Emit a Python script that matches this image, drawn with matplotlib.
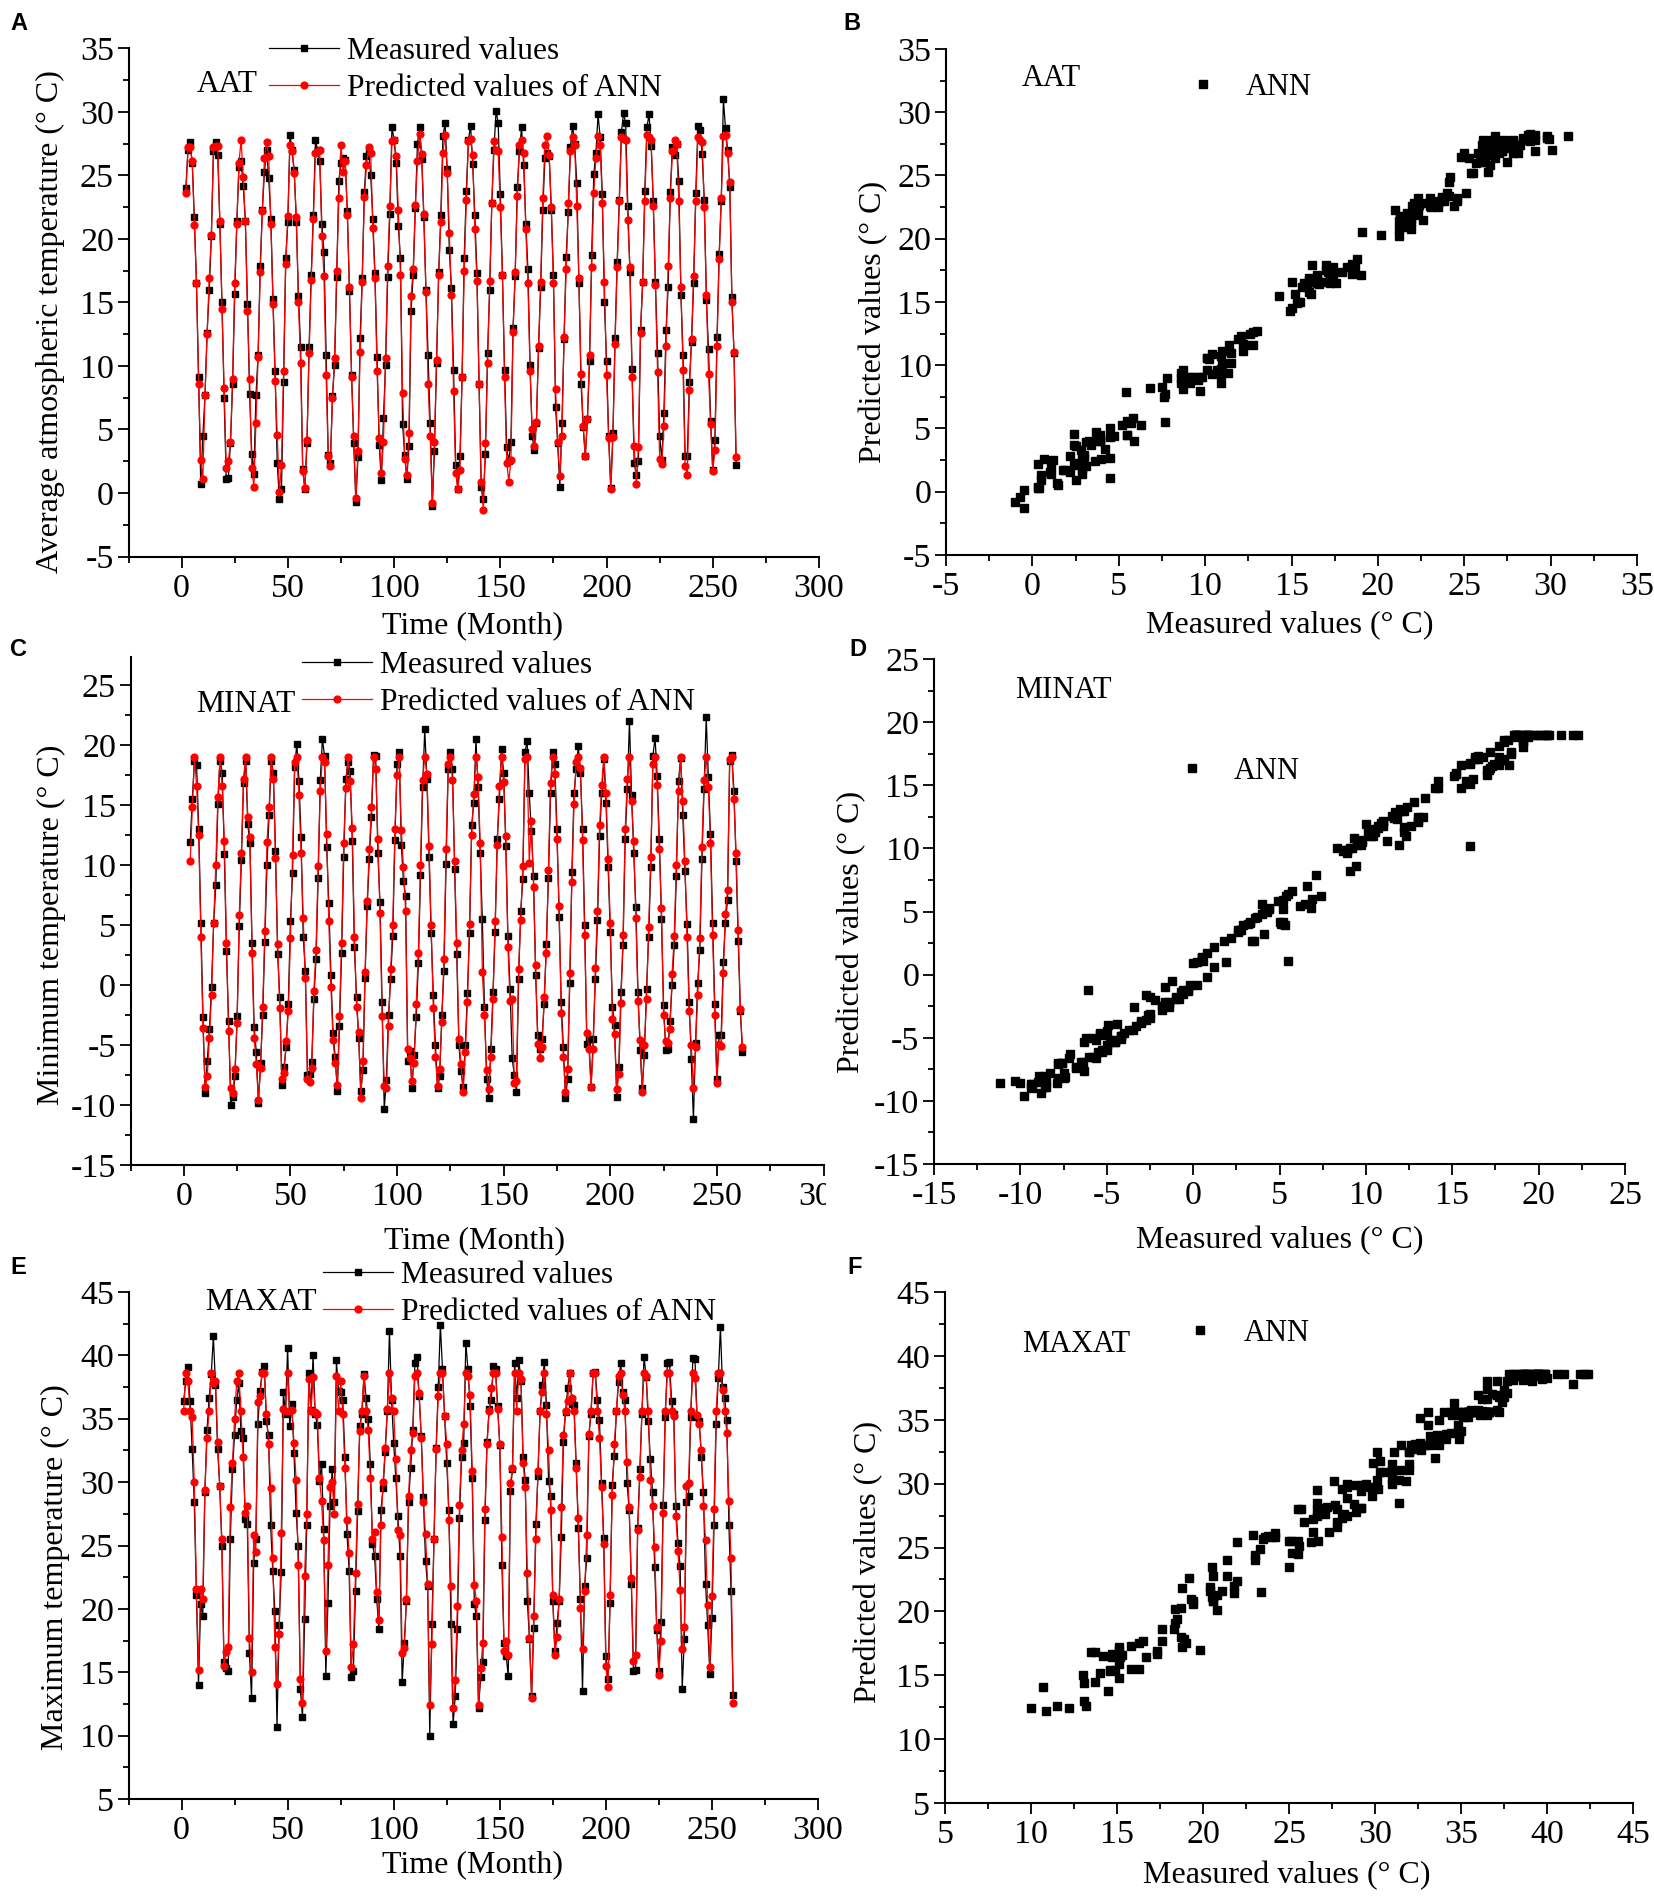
import numpy as np
import matplotlib
matplotlib.use("Agg")
import matplotlib.pyplot as plt
from matplotlib.ticker import MultipleLocator
from matplotlib.transforms import Bbox, TransformedBbox
from matplotlib.font_manager import FontProperties

plt.rcParams['font.family'] = ['Liberation Serif', 'DejaVu Serif']
plt.rcParams['axes.unicode_minus'] = False

# ---------------- data ----------------
aat_months = np.arange(2, 262)
aat_measured = [
    24.0, 27.0, 27.6, 26.0, 21.7, 16.5, 9.1, 0.7, 4.5, 7.7, 12.6, 16.0,
    20.2, 26.9, 27.6, 26.6, 21.2, 15.0, 7.5, 1.1, 1.2, 3.9, 8.6, 15.7,
    21.4, 25.7, 26.1, 24.2, 21.4, 14.9, 7.8, 3.1, 1.5, 7.7, 10.9, 17.9,
    22.3, 25.3, 27.0, 24.8, 21.6, 15.3, 9.6, 2.4, -0.5, 0.3, 8.7, 18.5,
    21.3, 28.2, 27.0, 25.4, 21.3, 15.5, 11.5, 1.9, 0.3, 3.9, 11.5, 17.2,
    21.9, 27.8, 27.0, 26.1, 21.2, 19.0, 10.9, 3.0, 2.4, 7.6, 10.1, 17.0,
    24.6, 26.0, 26.4, 26.2, 22.2, 15.9, 9.3, 3.9, -0.7, 2.8, 12.2, 16.9,
    23.7, 26.5, 26.9, 25.0, 21.6, 17.3, 10.7, 3.8, 1.0, 5.9, 10.1, 17.0,
    22.0, 28.8, 27.8, 26.0, 21.0, 18.5, 5.4, 3.0, 1.1, 3.7, 14.3, 17.2,
    22.4, 27.5, 28.8, 26.3, 21.7, 16.0, 10.9, 5.5, -1.0, 3.3, 10.2, 17.4,
    21.9, 28.1, 29.1, 25.5, 19.1, 16.1, 9.7, 2.2, 0.3, 2.9, 9.1, 18.5,
    23.8, 27.8, 28.9, 25.9, 21.9, 17.3, 8.6, 0.5, -0.5, 3.1, 11.0, 16.0,
    22.8, 27.0, 30.1, 29.1, 23.5, 17.2, 9.7, 3.6, 2.5, 4.0, 13.0, 17.1,
    24.1, 26.9, 28.8, 25.8, 21.2, 17.6, 10.1, 4.5, 3.4, 5.5, 11.4, 16.2,
    22.3, 26.4, 26.8, 26.5, 22.3, 17.2, 6.8, 3.9, 0.5, 5.5, 12.1, 18.6,
    22.1, 27.2, 28.9, 27.5, 24.4, 16.5, 8.6, 5.2, 2.9, 5.8, 10.4, 18.7,
    25.1, 26.8, 29.8, 28.0, 23.5, 15.0, 10.4, 4.5, 0.4, 4.7, 12.2, 18.2,
    23.1, 28.4, 29.9, 29.1, 22.6, 17.4, 9.8, 2.4, 1.4, 2.5, 12.8, 16.6,
    23.8, 28.8, 29.8, 27.3, 23.0, 16.6, 11.0, 4.5, 2.6, 6.3, 12.8, 16.2,
    23.7, 27.2, 26.6, 27.5, 24.6, 15.6, 10.9, 2.9, 2.9, 8.7, 11.9, 16.5,
    23.6, 28.9, 28.6, 26.7, 23.1, 15.2, 11.3, 5.7, 1.8, 4.2, 12.3, 18.8,
    23.0, 31.0, 28.7, 27.0, 24.1, 15.4, 11.0, 2.2,
]
aat_predicted = [
    23.6, 27.2, 27.2, 26.1, 21.1, 16.5, 8.6, 2.6, 1.1, 7.7, 12.5, 16.9,
    20.3, 27.2, 27.3, 27.3, 21.4, 14.5, 8.3, 2.0, 2.5, 4.0, 9.0, 16.5,
    21.2, 26.0, 27.8, 24.9, 21.4, 14.3, 9.0, 2.0, 0.5, 5.5, 10.7, 17.4,
    22.2, 26.4, 27.6, 26.5, 21.2, 14.9, 8.8, 4.6, 0.1, 2.2, 9.6, 18.0,
    21.8, 27.4, 26.9, 25.2, 21.7, 15.0, 10.2, 1.7, 0.4, 4.2, 11.0, 16.8,
    21.6, 26.8, 26.9, 27.0, 20.2, 17.1, 9.3, 2.9, 2.1, 7.5, 10.6, 17.5,
    23.2, 27.4, 25.3, 26.1, 21.9, 16.2, 9.1, 4.5, -0.4, 3.3, 11.1, 16.6,
    23.3, 25.8, 27.2, 26.8, 20.9, 16.9, 9.6, 4.3, 1.6, 4.0, 10.6, 17.9,
    22.6, 27.7, 27.8, 26.5, 22.3, 17.2, 7.9, 2.7, 1.4, 4.7, 15.5, 17.6,
    22.7, 26.1, 28.3, 26.7, 22.0, 15.8, 8.6, 4.5, -0.8, 4.0, 10.5, 17.2,
    21.3, 26.8, 28.2, 25.2, 20.5, 15.6, 8.0, 1.6, 0.3, 1.8, 9.1, 17.5,
    23.1, 27.7, 27.9, 26.6, 20.8, 16.7, 8.6, 0.9, -1.3, 3.9, 10.2, 16.7,
    22.8, 27.7, 27.0, 26.9, 22.5, 17.2, 9.1, 2.4, 0.9, 2.6, 12.7, 17.4,
    23.4, 27.4, 27.8, 26.8, 20.8, 16.5, 9.6, 5.0, 3.7, 5.6, 11.6, 16.6,
    23.2, 27.4, 28.1, 26.6, 22.5, 16.5, 8.2, 4.0, 1.3, 4.5, 12.3, 17.6,
    22.8, 26.9, 28.0, 27.4, 22.6, 16.9, 9.4, 5.3, 2.9, 5.8, 10.9, 17.8,
    23.6, 26.4, 28.1, 27.4, 22.8, 16.6, 9.3, 4.3, 0.3, 4.4, 11.7, 17.8,
    23.0, 28.0, 27.9, 27.8, 21.5, 17.8, 9.1, 3.7, 0.7, 3.6, 12.6, 16.6,
    23.0, 28.2, 28.0, 27.8, 22.6, 16.4, 9.5, 2.7, 2.3, 5.3, 11.6, 17.9,
    23.2, 26.9, 27.8, 27.5, 23.0, 16.2, 9.7, 2.1, 1.4, 8.1, 12.1, 17.1,
    23.0, 28.0, 27.8, 27.6, 22.5, 15.6, 9.4, 5.4, 1.7, 3.4, 11.6, 18.4,
    23.2, 28.1, 28.2, 26.8, 24.5, 15.0, 11.1, 2.8,
]

minat_months = np.arange(3, 263)
minat_measured = [
    11.9, 15.5, 18.7, 18.3, 13.0, 5.2, -2.7, -9.0, -6.3, -3.7, -0.2, 5.2,
    8.3, 15.1, 18.7, 17.7, 10.9, 2.8, -3.0, -10.0, -9.3, -7.6, -2.6, 4.9,
    10.4, 16.8, 18.7, 13.4, 11.8, 3.5, -3.5, -5.6, -9.8, -6.5, -2.5, 3.6,
    10.0, 14.2, 18.7, 17.7, 11.2, 2.6, -1.0, -8.3, -6.8, -5.2, -1.6, 5.3,
    9.3, 18.2, 20.1, 17.0, 12.3, 4.0, 1.2, -7.5, -7.4, -6.4, -1.2, 2.2,
    8.9, 17.1, 20.5, 19.1, 11.5, 6.8, 0.8, -4.0, -6.0, -8.8, -3.4, 2.7,
    10.7, 17.2, 18.6, 17.8, 12.0, 3.2, -1.0, -4.4, -8.8, -7.1, 0.6, 6.6,
    10.5, 14.0, 19.2, 19.1, 11.0, 6.9, -1.4, -10.3, -7.9, -2.5, 0.5, 4.1,
    12.1, 18.4, 19.4, 11.7, 8.7, 7.4, -6.3, -5.5, -8.6, -5.8, -2.7, 1.8,
    9.2, 16.5, 21.3, 17.2, 10.7, 4.3, -0.8, -5.0, -8.6, -7.6, -2.5, 1.2,
    10.1, 18.0, 19.4, 18.0, 9.7, 2.6, -5.0, -7.2, -8.5, -5.0, -0.7, 4.3,
    13.3, 15.2, 20.5, 16.5, 11.0, 5.5, -1.8, -7.8, -9.4, -5.3, -0.6, 4.4,
    12.2, 15.5, 19.7, 17.7, 11.6, 4.1, -0.3, -6.1, -7.5, -8.9, 0.5, 6.2,
    8.8, 19.4, 20.3, 16.0, 12.8, 9.1, 0.8, -4.2, -5.3, -4.5, -1.6, 3.4,
    8.9, 16.0, 19.4, 18.4, 13.0, 5.7, -1.4, -5.2, -9.4, -7.8, 0.2, 9.4,
    16.0, 18.0, 19.9, 17.7, 13.0, 5.0, -4.9, -4.5, -8.5, -4.5, 0.5, 5.4,
    12.4, 16.0, 18.8, 15.2, 9.8, 4.4, -1.8, -3.3, -9.3, -6.8, -0.6, 3.3,
    12.2, 16.3, 22.0, 15.8, 11.0, 6.5, -0.6, -5.4, -8.6, -5.8, -0.3, 4.0,
    9.8, 19.1, 20.6, 17.4, 12.2, 5.5, -1.7, -5.4, -5.3, -3.0, 0.0, 3.3,
    9.1, 17.0, 18.9, 14.2, 9.5, 5.1, -1.4, -6.2, -11.2, -4.8, 0.2, 2.9,
    10.5, 16.3, 22.3, 17.3, 12.6, 5.2, -1.6, -7.8, -4.2, -4.2, 1.9, 5.2,
    7.1, 18.7, 19.2, 16.2, 10.3, 3.7, -2.2, -5.6,
]
minat_predicted = [
    10.3, 14.8, 19.0, 16.6, 12.5, 4.0, -3.6, -8.5, -7.6, -4.4, -0.8, 5.2,
    10.0, 15.7, 19.0, 16.6, 12.0, 3.5, -3.8, -8.6, -9.0, -7.0, -3.2, 5.8,
    11.0, 17.2, 19.0, 14.0, 12.3, 2.7, -4.4, -6.6, -9.6, -6.9, -1.8, 4.5,
    11.9, 14.8, 19.0, 17.2, 10.6, 3.4, -1.9, -7.8, -7.3, -4.7, -2.2, 3.9,
    10.8, 18.6, 19.0, 15.8, 11.0, 5.6, 0.6, -7.8, -8.1, -6.9, -0.5, 2.9,
    9.9, 16.2, 19.0, 18.6, 12.6, 5.3, -0.2, -4.6, -6.5, -8.3, -2.6, 3.5,
    11.8, 16.4, 19.0, 17.0, 13.1, 4.0, -1.8, -3.9, -9.4, -6.3, 1.1, 7.0,
    11.3, 14.8, 19.0, 18.0, 12.2, 6.0, -2.6, -8.4, -8.6, -3.4, 1.3, 5.0,
    13.0, 17.5, 19.0, 12.9, 9.8, 6.2, -5.3, -6.1, -8.0, -6.5, -1.6, 2.7,
    10.0, 17.1, 19.0, 17.6, 11.6, 5.0, -1.9, -6.0, -8.4, -7.0, -3.1, 2.2,
    11.3, 18.4, 19.0, 17.1, 10.3, 3.5, -4.5, -6.6, -8.9, -5.6, -1.4, 5.1,
    12.5, 15.9, 19.0, 17.3, 11.8, 1.1, -2.5, -7.1, -8.7, -6.0, -1.2, 5.3,
    11.7, 16.6, 19.0, 16.9, 12.4, 3.2, -1.3, -1.2, -8.2, -8.0, 1.3, 5.4,
    9.9, 18.8, 19.0, 10.2, 13.7, 8.2, 1.7, -4.9, -6.1, -5.2, -1.0, 2.7,
    9.6, 16.8, 19.0, 17.6, 12.2, 6.6, -2.3, -6.0, -8.9, -7.0, 1.0, 8.6,
    15.1, 18.6, 19.0, 18.1, 12.1, 4.2, -4.0, -5.3, -8.5, -5.3, 1.4, 6.2,
    13.3, 16.7, 19.0, 16.0, 10.5, 5.2, -2.8, -4.1, -8.7, -7.4, -1.5, 4.2,
    13.0, 17.2, 19.0, 15.3, 12.0, 5.6, -1.3, -4.6, -8.9, -5.0, -1.2, 4.8,
    10.7, 18.4, 19.0, 16.7, 11.3, 6.4, -2.5, -4.7, -4.8, -3.7, 0.9, 4.1,
    10.0, 16.2, 19.0, 15.3, 10.3, 4.0, -2.2, -5.0, -8.6, -5.2, -0.8, 3.9,
    11.5, 17.1, 19.0, 16.5, 11.8, 4.2, -2.5, -8.2, -4.9, -5.1, 1.0, 5.9,
    7.9, 18.8, 19.0, 15.5, 11.0, 4.6, -2.0, -5.2,
]

maxat_months = np.arange(1, 261)
maxat_measured = [
    36.4, 38.0, 39.1, 36.4, 32.6, 28.4, 21.1, 14.0, 20.4, 19.4, 29.2, 34.1,
    36.6, 38.5, 41.5, 37.7, 32.6, 29.7, 25.0, 15.8, 15.3, 15.1, 25.5, 31.0,
    33.7, 36.5, 37.8, 34.0, 33.5, 27.1, 26.7, 16.5, 13.0, 23.6, 25.5, 34.6,
    37.2, 38.7, 39.2, 34.8, 33.7, 26.6, 23.0, 19.8, 10.7, 18.7, 22.9, 37.1,
    35.4, 40.6, 34.4, 36.2, 32.3, 27.6, 25.0, 13.7, 11.5, 19.2, 26.6, 38.6,
    35.7, 40.0, 35.4, 34.5, 30.1, 31.4, 26.3, 14.7, 20.5, 28.1, 31.0, 28.4,
    39.6, 37.2, 37.1, 36.5, 32.0, 25.9, 23.0, 14.6, 15.1, 21.4, 27.7, 34.4,
    35.4, 38.5, 36.6, 35.0, 31.4, 25.1, 24.2, 20.8, 18.4, 27.8, 29.5, 32.4,
    35.6, 41.9, 36.5, 33.1, 30.3, 27.3, 24.2, 14.2, 17.3, 20.6, 28.4, 31.1,
    34.1, 39.4, 39.9, 36.8, 33.6, 28.8, 23.8, 21.8, 10.0, 18.8, 25.5, 32.7,
    37.5, 42.4, 38.9, 35.2, 31.5, 27.8, 18.8, 10.9, 13.1, 18.4, 27.2, 32.0,
    33.1, 41.0, 38.9, 36.0, 30.3, 20.4, 19.4, 12.2, 14.6, 15.8, 27.0, 33.2,
    35.8, 36.5, 39.2, 38.9, 36.0, 32.9, 23.5, 17.3, 16.3, 14.7, 29.3, 31.0,
    39.4, 36.6, 39.6, 38.0, 32.0, 30.2, 20.6, 17.6, 13.1, 18.5, 26.7, 30.5,
    35.6, 37.7, 39.5, 36.1, 30.1, 28.9, 20.6, 16.7, 18.9, 20.6, 25.7, 33.2,
    35.5, 37.4, 38.6, 36.2, 36.1, 31.5, 26.4, 20.8, 13.5, 21.8, 24.0, 33.6,
    35.4, 38.6, 38.7, 36.5, 34.9, 29.9, 25.6, 16.3, 14.5, 20.5, 29.8, 32.1,
    35.6, 37.9, 39.4, 37.1, 36.5, 29.9, 27.8, 22.0, 15.1, 15.2, 26.4, 31.0,
    35.4, 39.9, 38.3, 34.8, 31.8, 29.2, 23.3, 18.3, 15.1, 19.0, 28.2, 35.1,
    39.4, 39.5, 36.4, 35.4, 28.1, 25.2, 23.4, 13.7, 17.6, 28.4, 28.9, 35.1,
    39.8, 39.7, 35.1, 34.8, 32.0, 29.2, 22.0, 18.7, 14.9, 19.3, 26.6, 34.6,
    38.2, 42.2, 37.5, 36.6, 34.9, 26.6, 21.4, 13.2,
]
maxat_predicted = [
    35.6, 38.6, 38.0, 35.6, 35.1, 30.0, 21.6, 15.2, 21.6, 20.8, 29.4, 33.5,
    35.6, 38.6, 37.8, 38.0, 33.2, 29.7, 25.5, 15.5, 16.6, 17.0, 28.0, 31.5,
    35.0, 38.0, 38.6, 35.6, 32.0, 27.6, 28.1, 17.7, 15.0, 25.8, 24.5, 36.3,
    36.8, 38.6, 38.6, 35.4, 33.0, 29.5, 24.0, 17.0, 14.1, 18.0, 26.0, 35.8,
    35.6, 38.6, 35.6, 35.7, 33.1, 30.2, 23.5, 14.5, 12.6, 22.6, 27.5, 38.1,
    35.6, 38.3, 35.5, 35.4, 30.3, 28.5, 25.4, 16.7, 23.5, 29.6, 30.0, 27.5,
    38.4, 35.6, 38.0, 35.4, 31.1, 27.0, 24.4, 15.4, 17.2, 22.8, 28.3, 34.0,
    35.6, 38.4, 35.6, 34.1, 30.3, 25.5, 26.1, 21.3, 19.1, 26.6, 30.0, 32.7,
    35.8, 38.6, 36.6, 35.6, 31.8, 26.2, 25.8, 16.5, 16.9, 20.8, 28.9, 32.5,
    33.9, 38.4, 38.6, 37.0, 33.5, 28.4, 25.9, 22.0, 12.4, 17.2, 25.5, 32.6,
    36.8, 38.6, 38.6, 35.2, 33.0, 27.0, 21.8, 12.2, 14.4, 20.2, 28.2, 32.5,
    34.6, 38.6, 38.4, 36.9, 30.9, 21.9, 20.6, 12.4, 15.3, 17.3, 27.9, 33.0,
    35.6, 37.4, 38.6, 38.6, 35.8, 33.0, 25.7, 16.7, 17.5, 16.4, 29.9, 31.1,
    38.6, 35.6, 38.6, 38.1, 31.5, 29.6, 22.8, 17.7, 13.0, 19.4, 25.5, 30.9,
    35.6, 37.1, 38.6, 35.4, 32.5, 27.8, 21.1, 16.4, 17.8, 20.8, 28.0, 33.7,
    35.6, 36.4, 38.6, 36.6, 35.6, 31.1, 27.2, 20.1, 16.8, 21.4, 25.8, 33.8,
    35.6, 38.6, 38.6, 35.6, 33.5, 29.6, 25.1, 15.5, 13.8, 21.1, 29.0, 33.0,
    35.6, 38.4, 38.6, 36.9, 35.6, 31.6, 28.0, 22.4, 15.9, 16.4, 26.2, 30.4,
    35.6, 38.6, 38.4, 35.6, 30.2, 28.1, 24.9, 18.6, 14.8, 17.5, 27.6, 35.6,
    38.6, 38.6, 35.6, 35.2, 27.3, 24.6, 21.5, 16.8, 18.6, 29.7, 29.9, 35.6,
    38.6, 38.2, 35.3, 34.6, 32.5, 28.1, 25.4, 20.3, 15.4, 21.0, 27.9, 35.6,
    38.6, 38.6, 37.3, 35.6, 33.9, 28.5, 24.0, 12.6,
]

series_labels = ['Measured values', 'Predicted values of ANN']
scatter_label = 'ANN'
variable_names = ['AAT', 'MINAT', 'MAXAT']
panel_letters = ['A', 'B', 'C', 'D', 'E', 'F']
time_ylabels = ['Average atmospheric temperature (° C)',
                'Minimum temperature (° C)',
                'Maximum temperature (° C)']
time_xlabel = 'Time (Month)'
scatter_xlabel = 'Measured values (° C)'
scatter_ylabel = 'Predicted values (° C)'

# ---------------- figure ----------------
W, H = 1654, 1897
fig = plt.figure(figsize=(W / 100, H / 100), dpi=100)


def fx(px):
    return px / W


def fy(py):
    return 1 - py / H


def make_axes(x0, x1, ytop, ybot):
    return fig.add_axes([fx(x0), fy(ybot), (x1 - x0) / W, (ybot - ytop) / H])


TICK_FS = 24.5
LABEL_FS = 23
LEG_FS = 22.6


def style(ax, xmaj, xmin, ymaj, ymin):
    for s in ['top', 'right']:
        ax.spines[s].set_visible(False)
    for s in ['left', 'bottom']:
        ax.spines[s].set_linewidth(1.5)
    ax.xaxis.set_major_locator(MultipleLocator(xmaj))
    ax.xaxis.set_minor_locator(MultipleLocator(xmin))
    ax.yaxis.set_major_locator(MultipleLocator(ymaj))
    ax.yaxis.set_minor_locator(MultipleLocator(ymin))
    ax.tick_params(which='major', direction='out', length=8, width=1.3,
                   labelsize=TICK_FS)
    ax.tick_params(which='minor', direction='out', length=4.3, width=1.3)
    ax.tick_params(axis='x', which='major', pad=4)
    ax.tick_params(axis='y', which='major', pad=2.5)
    ax.patch.set_alpha(0)


def labels(ax, xl, xpos, yl, ypos):
    ax.set_xlabel(xl, fontsize=LABEL_FS, va='center', ha='center')
    ax.xaxis.set_label_coords(fx(xpos[0]), fy(xpos[1]), transform=fig.transFigure)
    ax.set_ylabel(yl, fontsize=LABEL_FS, va='center', ha='center')
    ax.yaxis.set_label_coords(fx(ypos[0]), fy(ypos[1]), transform=fig.transFigure)


leg_prop = FontProperties(family='Liberation Serif', size=LEG_FS)
sc_prop = FontProperties(family='Liberation Serif', size=22)


def time_panel(ax, months, meas, pred, name, leg_anchor, name_pos):
    ax.plot(months, meas, '-', color='black', lw=0.9, marker='s', ms=4.4,
            mfc='black', mec='black', label=series_labels[0], zorder=2)
    ax.plot(months, pred, '-', color='red', lw=0.9, marker='o', ms=4.9,
            mfc='red', mec='red', label=series_labels[1], zorder=3)
    ax.legend(loc='upper left', bbox_to_anchor=(fx(leg_anchor[0]), fy(leg_anchor[1])),
              bbox_transform=fig.transFigure, frameon=False, borderpad=0,
              borderaxespad=0, handlelength=2.23, handletextpad=0.25,
              labelspacing=0.25, prop=leg_prop)
    fig.text(fx(name_pos[0]), fy(name_pos[1]), name, fontsize=LEG_FS,
             ha='left', va='center')


def scatter_panel(ax, meas, pred, name, leg_anchor, pad, name_pos):
    ax.plot(meas, pred, 's', color='black', ms=5.3, ls='none',
            label=scatter_label, clip_on=False)
    ax.legend(loc='upper left', bbox_to_anchor=(fx(leg_anchor[0]), fy(leg_anchor[1])),
              bbox_transform=fig.transFigure, frameon=False, borderpad=0,
              borderaxespad=0, handlelength=1.0, handletextpad=pad,
              prop=sc_prop, numpoints=1)
    fig.text(fx(name_pos[0]), fy(name_pos[1]), name, fontsize=22,
             ha='left', va='center')


# ---- A ----
axA = make_axes(128.5, 819, 48.4, 556.5)
axA.set_xlim(-25, 300)
axA.set_ylim(-5, 35)
style(axA, 50, 25, 5, 2.5)
time_panel(axA, aat_months, aat_measured, aat_predicted, variable_names[0],
           (269, 37), (197, 84))
labels(axA, time_xlabel, (472, 626), time_ylabels[0], (50, 322))

# ---- B ----
axB = make_axes(946, 1637, 49, 555)
axB.set_xlim(-5, 35)
axB.set_ylim(-5, 35)
style(axB, 5, 2.5, 5, 2.5)
scatter_panel(axB, aat_measured, aat_predicted, variable_names[0],
              (1188, 73), 0.9, (1022, 79))
labels(axB, scatter_xlabel, (1290, 626), scatter_ylabel, (874, 322))

# ---- C ----
axC = make_axes(130.5, 823.5, 657, 1165)
axC.set_xlim(-25, 300)
axC.set_ylim(-15, 27.33)
style(axC, 50, 25, 5, 2.5)
time_panel(axC, minat_months, minat_measured, minat_predicted, variable_names[1],
           (302, 651), (196, 705))
labels(axC, time_xlabel, (475, 1241), time_ylabels[1], (51, 925))

# ---- D ----
axD = make_axes(934, 1625, 659, 1164)
axD.set_xlim(-15, 25)
axD.set_ylim(-15, 25)
style(axD, 5, 2.5, 5, 2.5)
scatter_panel(axD, minat_measured, minat_predicted, variable_names[1],
              (1177, 757), 0.87, (1015, 690))
labels(axD, scatter_xlabel, (1280, 1241), scatter_ylabel, (852, 932))

# ---- E ----
axE = make_axes(128.5, 818, 1292, 1799)
axE.set_xlim(-25, 300)
axE.set_ylim(5, 45)
style(axE, 50, 25, 5, 2.5)
time_panel(axE, maxat_months, maxat_measured, maxat_predicted, variable_names[2],
           (323, 1261), (205, 1302))
labels(axE, time_xlabel, (472, 1865), time_ylabels[2], (55, 1567))

# ---- F ----
axF = make_axes(945, 1633, 1292, 1803)
axF.set_xlim(5, 45)
axF.set_ylim(5, 45)
style(axF, 5, 2.5, 5, 2.5)
scatter_panel(axF, maxat_measured, maxat_predicted, variable_names[2],
              (1185, 1319), 0.93, (1022, 1344))
labels(axF, scatter_xlabel, (1287, 1876), scatter_ylabel, (869, 1562))

# panel letters
letter_pos = [(10, 23), (843, 23), (10, 650), (849, 650), (10, 1267), (847, 1267)]
for letter, (px, py) in zip(panel_letters, letter_pos):
    fig.text(fx(px), fy(py), letter, fontsize=17, fontweight='bold',
             family=['Liberation Sans', 'DejaVu Sans'], ha='left', va='center')

# C panel: the last tick label is cut off at the panel edge in the reference
fig.canvas.draw()
clip = TransformedBbox(Bbox([[0, 0], [fx(826), 1]]), fig.transFigure)
for t in axC.xaxis.get_major_ticks():
    t.label1.set_clip_on(True)
    t.label1.set_clip_box(clip)

fig.savefig('out.png', dpi=100)
